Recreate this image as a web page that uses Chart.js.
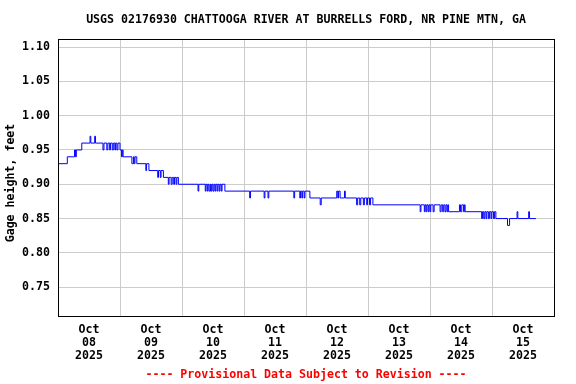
<!DOCTYPE html>
<html>
<head>
<meta charset="utf-8">
<title>USGS 02176930 Chattooga River gage height</title>
<script src="https://cdn.jsdelivr.net/npm/chart.js@4.4.1/dist/chart.umd.min.js"></script>
<style>
  html, body { margin: 0; padding: 0; background: #ffffff; }
  #gageChart { display: block; }
</style>
</head>
<body>
<canvas id="gageChart" width="576" height="384"></canvas>
<script>
// Texte du graphique
const titleText = 'USGS 02176930 CHATTOOGA RIVER AT BURRELLS FORD, NR PINE MTN, GA';
const footerText = '---- Provisional Data Subject to Revision ----';
const yAxisTitle = 'Gage height, feet';

// Étiquettes de l'axe X (un jour = 24 h depuis le 08 oct. 00:00)
const monthLabel = 'Oct';
const yearLabel = '2025';
const dayLabels = ['08', '09', '10', '11', '12', '13', '14', '15'];
const yTickValues = [0.75, 0.80, 0.85, 0.90, 0.95, 1.00, 1.05, 1.10];

// Lectures : heure depuis le 08 oct. 00:00, et hauteur (ft) tenue jusqu'à la lecture suivante
const readingHour = [
  0, 3.6, 6.4, 6.8, 7.1, 9.2, 12.4, 12.7, 14.2, 14.5,
  17.4, 17.8, 18.9, 19.3, 20.0, 20.3, 21.0, 21.4, 22.0, 22.3,
  22.8, 23.2, 24.0, 24.6, 24.9, 25.2, 28.6, 29.2, 29.5, 29.8,
  30.5, 34.0, 34.3, 35.2, 38.6, 38.9, 39.6, 39.9, 40.8, 42.7,
  43.0, 43.8, 44.2, 44.8, 45.1, 45.7, 46.0, 46.6, 54.2, 54.5,
  57.0, 57.3, 57.8, 58.1, 58.5, 59.0, 59.3, 59.6, 60.0, 60.4,
  60.8, 61.1, 61.6, 61.9, 62.4, 62.7, 63.2, 63.5, 64.6, 74.2,
  74.5, 79.8, 80.1, 81.3, 81.6, 91.3, 91.6, 93.6, 93.9, 94.4,
  94.7, 95.3, 95.6, 97.5, 101.5, 101.9, 107.9, 108.3, 108.6, 109.2,
  110.9, 111.2, 115.6, 116.0, 116.8, 117.2, 118.2, 118.6, 119.5, 119.8,
  120.6, 121.0, 121.9, 140.2, 140.5, 141.8, 142.1, 142.5, 142.8, 143.3,
  143.6, 144.0, 144.3, 145.2, 145.6, 147.9, 148.3, 148.9, 149.3, 149.8,
  150.2, 150.6, 150.9, 151.2, 155.4, 155.8, 156.3, 157.0, 157.3, 157.6,
  164.0, 164.3, 164.8, 165.2, 165.7, 166.0, 166.6, 167.0, 167.6, 167.9,
  168.6, 169.0, 169.5, 174.0, 174.8, 177.7, 178.0, 182.2, 182.5, 185.0
];
const gageHeight = [
  0.93, 0.94, 0.95, 0.94, 0.95, 0.96, 0.97, 0.96, 0.97, 0.96,
  0.95, 0.96, 0.95, 0.96, 0.95, 0.96, 0.95, 0.96, 0.95, 0.96,
  0.95, 0.96, 0.95, 0.94, 0.95, 0.94, 0.93, 0.94, 0.93, 0.94,
  0.93, 0.92, 0.93, 0.92, 0.91, 0.92, 0.91, 0.92, 0.91, 0.90,
  0.91, 0.90, 0.91, 0.90, 0.91, 0.90, 0.91, 0.90, 0.89, 0.90,
  0.89, 0.90, 0.89, 0.90, 0.89, 0.90, 0.89, 0.90, 0.89, 0.90,
  0.89, 0.90, 0.89, 0.90, 0.89, 0.90, 0.89, 0.90, 0.89, 0.88,
  0.89, 0.88, 0.89, 0.88, 0.89, 0.88, 0.89, 0.88, 0.89, 0.88,
  0.89, 0.88, 0.89, 0.88, 0.87, 0.88, 0.89, 0.88, 0.89, 0.88,
  0.89, 0.88, 0.87, 0.88, 0.87, 0.88, 0.87, 0.88, 0.87, 0.88,
  0.87, 0.88, 0.87, 0.86, 0.87, 0.86, 0.87, 0.86, 0.87, 0.86,
  0.87, 0.86, 0.87, 0.86, 0.87, 0.86, 0.87, 0.86, 0.87, 0.86,
  0.87, 0.86, 0.87, 0.86, 0.87, 0.86, 0.87, 0.86, 0.87, 0.86,
  0.85, 0.86, 0.85, 0.86, 0.85, 0.86, 0.85, 0.86, 0.85, 0.86,
  0.85, 0.86, 0.85, 0.84, 0.85, 0.86, 0.85, 0.86, 0.85, 0.85
];

const fontFamily = '"DejaVu Sans Mono", "Liberation Mono", monospace';
const gridGrey = '#cccccc';

// Cadre, titre, titre de l'axe Y et mention en bas
const frameAndText = {
  id: 'frameAndText',
  afterDraw(chart) {
    const c = chart.ctx;
    const a = chart.chartArea;
    c.save();
    c.strokeStyle = '#000000';
    c.lineWidth = 1;
    c.strokeRect(a.left + 0.5, a.top + 0.5, a.right - a.left, a.bottom - a.top);

    c.font = 'bold 11.6px ' + fontFamily;
    c.textAlign = 'center';
    c.textBaseline = 'middle';
    c.fillStyle = '#000000';
    const midX = (a.left + a.right) / 2;
    c.fillText(titleText, midX, 19.5);

    c.fillStyle = '#ff0000';
    c.fillText(footerText, midX, 375);

    c.fillStyle = '#000000';
    c.translate(11, 183);
    c.rotate(-Math.PI / 2);
    c.fillText(yAxisTitle, 0, 0);
    c.restore();
  }
};

const points = readingHour.map((h, i) => ({ x: h, y: gageHeight[i] }));

const ctx = document.getElementById('gageChart').getContext('2d');
new Chart(ctx, {
  type: 'line',
  data: {
    datasets: [{
      data: points,
      borderColor: '#0000ff',
      borderWidth: 1,
      pointRadius: 0,
      stepped: true,
      fill: false
    }]
  },
  options: {
    responsive: false,
    animation: false,
    devicePixelRatio: 1,
    layout: { padding: { top: 39, right: 22, bottom: 0, left: 0 } },
    plugins: {
      legend: { display: false },
      tooltip: { enabled: false }
    },
    scales: {
      x: {
        type: 'linear',
        min: 0,
        max: dayLabels.length * 24,
        afterBuildTicks: scale => {
          const ticks = [];
          for (let h = 0; h <= dayLabels.length * 24; h += 12) ticks.push({ value: h });
          scale.ticks = ticks;
        },
        afterFit: scale => { scale.height = 68; },
        border: { display: false },
        grid: {
          drawTicks: false,
          lineWidth: 1,
          color: c => (c.tick && c.tick.value % 24 === 0) ? gridGrey : 'rgba(0,0,0,0)'
        },
        ticks: {
          autoSkip: false,
          maxRotation: 0,
          minRotation: 0,
          padding: 7,
          color: '#000000',
          font: { family: fontFamily, size: 11.6, weight: 'bold', lineHeight: 13 / 11.6 },
          callback: value => {
            if (value % 24 === 12) {
              return [monthLabel, dayLabels[Math.floor(value / 24)], yearLabel];
            }
            return '';
          }
        }
      },
      y: {
        min: 0.708,
        max: 1.1117,
        afterBuildTicks: scale => {
          scale.ticks = yTickValues.map(v => ({ value: v }));
        },
        afterFit: scale => { scale.width = 58; },
        border: { display: false },
        grid: { drawTicks: false, color: gridGrey, lineWidth: 1 },
        ticks: {
          padding: 8,
          color: '#000000',
          font: { family: fontFamily, size: 11.6, weight: 'bold' },
          callback: value => value.toFixed(2)
        }
      }
    }
  },
  plugins: [frameAndText]
});
</script>
</body>
</html>
